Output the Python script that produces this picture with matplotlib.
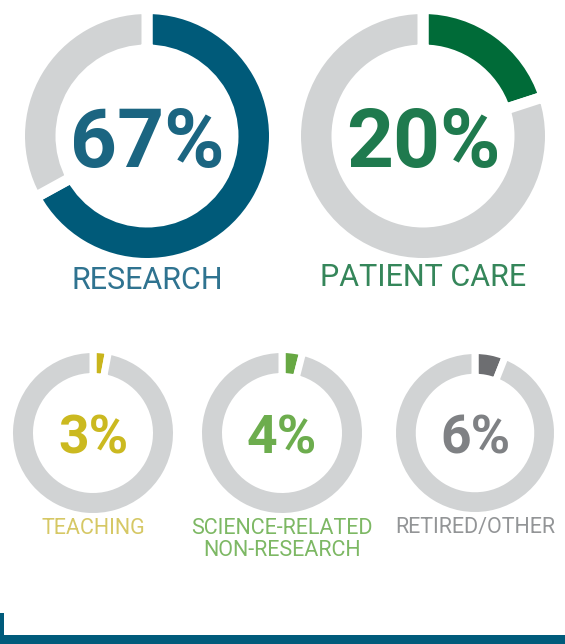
import matplotlib
matplotlib.use("Agg")
import matplotlib.pyplot as plt
from matplotlib.patches import Rectangle

W, H = 565, 644
DPI = 100

# ---- data ----
categories = ["RESEARCH", "PATIENT CARE", "TEACHING", "SCIENCE-RELATED\nNON-RESEARCH", "RETIRED/OTHER"]
percents = [67, 20, 3, 4, 6]
value_labels = ["67%", "20%", "3%", "4%", "6%"]

# ---- styles ----
ring_colors = ["#005a79", "#006b38", "#c9b51c", "#67a843", "#6d6e71"]
num_colors = ["#1b6581", "#1f7a4e", "#cbb920", "#6dad4e", "#7f8184"]
lab_colors = ["#2f7390", "#35865a", "#d6c865", "#7db864", "#939597"]
gray = "#d1d3d4"
centers = [(147, 136), (423, 136), (93, 433), (282, 433), (475, 433)]
radii = [122, 122, 80, 80, 79]
gaps = [11, 11, 7, 7, 7]          # px
num_sizes = [59, 59, 38.5, 38.5, 38.5]
lab_sizes = [22, 22, 15.5, 15.5, 15.5]
lab_y = [280, 277, 528, 539.5, 528]

fig = plt.figure(figsize=(W / DPI, H / DPI), dpi=DPI)
ax = fig.add_axes([0, 0, 1, 1])
PX = 72 / DPI  # points per pixel

for i in range(len(percents)):
    cx, cy = centers[i]
    r = radii[i]
    g = gaps[i]
    thick = r * 0.25
    ax.pie([percents[i], 100 - percents[i]],
           colors=[ring_colors[i], gray],
           startangle=90, counterclock=False,
           center=(cx, H - cy), radius=r + g / 2, frame=True,
           wedgeprops=dict(width=thick + g, edgecolor="white",
                           linewidth=g * PX, joinstyle="miter"))
    ax.text(cx, H - cy, value_labels[i], ha="center", va="center_baseline",
            fontsize=num_sizes[i], fontweight="bold", family=["Roboto", "DejaVu Sans"],
            color=num_colors[i])
    ax.text(cx, H - lab_y[i], categories[i], ha="center", va="center",
            fontsize=lab_sizes[i], fontweight="normal", family=["Roboto", "DejaVu Sans"],
            color=lab_colors[i], linespacing=1.0)

# bottom rule
ax.add_patch(Rectangle((0, 0), W, 9, color="#005b7b", lw=0))
ax.add_patch(Rectangle((0, 9), 3.5, 22, color="#005b7b", lw=0))

ax.set_xlim(0, W)
ax.set_ylim(0, H)
ax.set_aspect("equal")
ax.axis("off")

fig.savefig("out.png", dpi=DPI, facecolor="white")
